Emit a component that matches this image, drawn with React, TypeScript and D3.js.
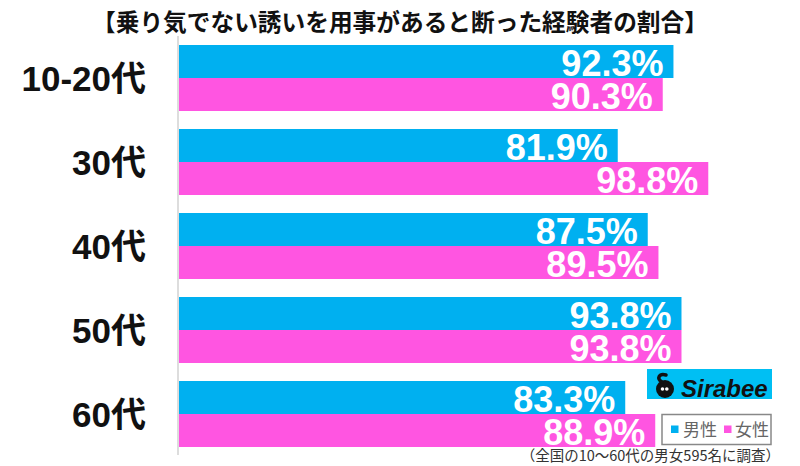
import React from "react";
import * as d3 from "d3";

const title = "【乗り気でない誘いを用事があると断った経験者の割合】";
const categories = ["10-20代", "30代", "40代", "50代", "60代"];
const male = [92.3, 81.9, 87.5, 93.8, 83.3];
const female = [90.3, 98.8, 89.5, 93.8, 88.9];
const seriesNames = ["男性", "女性"];
const colors = ["#00B0F0", "#FF55E1"];
const footnote = "（全国の10〜60代の男女595名に調査）";

const W = 800;
const H = 466;
const left = 179;
const NUM = "'Liberation Sans', Arial, 'Noto Sans CJK JP', sans-serif";
const CJK = "'Noto Sans CJK JP', sans-serif";

export default function App() {
  const x = d3.scaleLinear().domain([0, 100]).range([left, left + 535.7]);
  const y = d3.scaleBand().domain(categories).range([45, 465]).paddingInner(0).paddingOuter(0);
  const barH = 33;
  const series = [male, female];
  return (
    <svg width={W} height={H} style={{ position: "absolute", left: 0, top: 0, background: "#fff" }}>
      <text x={400} y={31} textAnchor="middle" fontFamily={CJK} fontWeight={700} fontSize={23.7} fill="#111">
        {title}
      </text>
      <line x1={178} x2={178} y1={36} y2={455} stroke="#ddd" strokeWidth={2} />
      {categories.map((c, i) => {
        const y0 = y(c)!;
        return (
          <g key={c}>
            <text x={146} y={y0 + barH + 12.5} textAnchor="end" fontFamily={NUM} fontWeight={700} fontSize={35} fill="#111">
              {c}
            </text>
            {series.map((s, j) => {
              const by = y0 + j * barH;
              return (
                <g key={j}>
                  <rect x={x(0)} y={by} width={x(s[i]) - x(0)} height={barH} fill={colors[j]} />
                  <text x={x(s[i]) - 10} y={by + barH - 2.5} textAnchor="end" fontFamily={NUM} fontWeight={700} fontSize={36} fill="#fff">
                    {s[i].toFixed(1) + "%"}
                  </text>
                </g>
              );
            })}
          </g>
        );
      })}
      {/* logo */}
      <rect x={647} y={369} width={125} height={30} fill="#00BFF3" />
      <g transform="translate(665,389)">
        <circle cx={0} cy={0} r={9} fill="#111" />
        <path d="M -3 -7 C -9 -10, -6 -16, 1 -14" stroke="#111" strokeWidth={3.5} fill="none" strokeLinecap="round" />
        <circle cx={-2.5} cy={0} r={1.8} fill="#fff" />
        <circle cx={1.8} cy={0} r={1.8} fill="#fff" />
      </g>
      <text x={681} y={396.5} fontFamily={NUM} fontStyle="italic" fontWeight={700} fontSize={24} fill="#111">
        Sirabee
      </text>
      {/* legend */}
      <rect x={662} y={414.5} width={109} height={30} fill="#fff" stroke="#888" strokeWidth={1.5} />
      {seriesNames.map((n, j) => (
        <g key={n}>
          <rect x={671 + j * 53} y={425.5} width={7.5} height={7.5} fill={colors[j]} />
          <text x={683 + j * 52} y={436} fontFamily={CJK} fontSize={17} fill="#666">
            {n}
          </text>
        </g>
      ))}
      <text x={780} y={461} textAnchor="end" fontFamily={CJK} fontSize={14.5} fill="#333">
        {footnote}
      </text>
    </svg>
  );
}
